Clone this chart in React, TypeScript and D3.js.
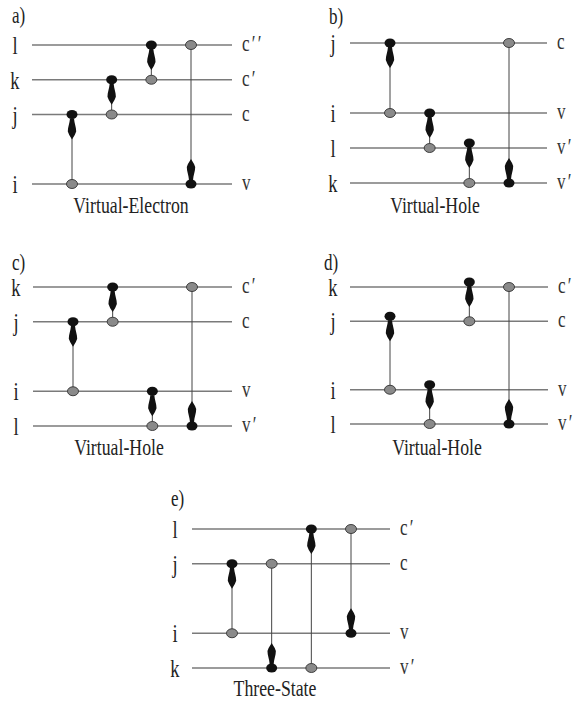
import React from "react";
import * as d3 from "d3";

// Panel captions and titles
const panelLetters = ["a)", "b)", "c)", "d)", "e)"];
const panelTitles = ["Virtual-Electron", "Virtual-Hole", "Virtual-Hole", "Virtual-Hole", "Three-State"];

// Level indices (bottom → top) per panel
const levelNames = [
  ["i", "j", "k", "l"],
  ["k", "l", "i", "j"],
  ["l", "i", "j", "k"],
  ["l", "i", "j", "k"],
  ["k", "i", "j", "l"],
];
// Band labels on the right, same order
const levelBands = [
  ["v", "c", "c′", "c′′"],
  ["v′", "v′", "v", "c"],
  ["v′", "v", "c", "c′"],
  ["v′", "v", "c", "c′"],
  ["v′", "v", "c", "c′"],
];
// Relative energy of each level
const levelEnergies = [
  [0, 2, 3, 4],
  [0, 1, 2, 4],
  [0, 1, 3, 4],
  [0, 1, 3, 4],
  [0, 1, 3, 4],
];

// Transitions per panel, in column order: [filled end, open end]
const transitions: [string, string][][] = [
  [["j", "i"], ["k", "j"], ["l", "k"], ["i", "l"]],
  [["j", "i"], ["i", "l"], ["l", "k"], ["k", "j"]],
  [["j", "i"], ["k", "j"], ["i", "l"], ["l", "k"]],
  [["j", "i"], ["i", "l"], ["k", "j"], ["l", "k"]],
  [["j", "i"], ["k", "j"], ["l", "k"], ["i", "l"]],
];
// Filled ends sitting slightly above their line
const raisedEnds = [
  [false, false, false, false],
  [false, false, true, false],
  [false, false, false, false],
  [true, true, true, false],
  [false, false, false, false],
];

// Panel frames on the page
const layout = [
  { x0: 32, x1: 232, top: 45, bottom: 184, titleX: 131, titleY: 213, lx: 12, ly: 23 },
  { x0: 350, x1: 547, top: 43, bottom: 183, titleX: 435, titleY: 213, lx: 329, ly: 24 },
  { x0: 33, x1: 232, top: 287, bottom: 426, titleX: 119, titleY: 455, lx: 12, ly: 270 },
  { x0: 350, x1: 548, top: 287, bottom: 424, titleX: 437, titleY: 455, lx: 324, ly: 270 },
  { x0: 192, x1: 390, top: 529, bottom: 668, titleX: 275, titleY: 696, lx: 171, ly: 506 },
];

const FONT = "'Liberation Serif', 'Times New Roman', serif";
const SQ = 0.74; // horizontal compression of the serif type

// Arrow body pointing away from the filled dot (local coords, +y = away)
const arrowPath = (() => {
  const p = d3.path();
  p.moveTo(-2, 4);
  p.bezierCurveTo(-2.4, 9, -4.2, 12.5, -4.2, 17);
  p.quadraticCurveTo(-3.4, 20, 0, 25);
  p.quadraticCurveTo(3.4, 20, 4.2, 17);
  p.bezierCurveTo(4.2, 12.5, 2.4, 9, 2, 4);
  p.closePath();
  return p.toString();
})();

function Panel({ idx }: { idx: number }) {
  const L = layout[idx];
  const y = d3.scaleLinear().domain([0, 4]).range([L.bottom, L.top]);
  const x = d3.scalePoint<number>().domain([0, 1, 2, 3]).range([L.x0 + 40, L.x0 + 159]);
  const names = levelNames[idx];
  const levelY = (n: string) => y(levelEnergies[idx][names.indexOf(n)]);

  return (
    <g>
      <text
        transform={`translate(${L.lx},${L.ly}) scale(${SQ},1)`}
        fontFamily={FONT}
        fontSize={23}
        fill="#222"
      >
        {panelLetters[idx]}
      </text>
      {names.map((n, i) => {
        const yy = y(levelEnergies[idx][i]);
        return (
          <g key={n}>
            <line x1={L.x0} x2={L.x1} y1={yy} y2={yy} stroke="#7a7a7a" strokeWidth={1.3} />
            <text
              transform={`translate(${L.x0 - 17},${yy + 9}) scale(${SQ},1)`}
              textAnchor="middle"
              fontFamily={FONT}
              fontSize={25}
              fill="#222"
            >
              {n}
            </text>
            <text
              transform={`translate(${L.x1 + 10},${yy + 6}) scale(${SQ},1)`}
              fontFamily={FONT}
              fontSize={23}
              letterSpacing={3}
              fill="#333"
            >
              {levelBands[idx][i]}
            </text>
          </g>
        );
      })}
      {transitions[idx].map(([filled, open], c) => {
        const cx = x(c)!;
        const yf = levelY(filled) - (raisedEnds[idx][c] ? 5 : 0);
        const yo = levelY(open);
        const dir = yo > yf ? 1 : -1;
        return (
          <g key={c}>
            <line x1={cx} x2={cx} y1={yf} y2={yo} stroke="#444" strokeWidth={1} />
            <path d={arrowPath} transform={`translate(${cx},${yf}) scale(1,${dir})`} fill="#111" />
            <ellipse cx={cx} cy={yo} rx={5.5} ry={4.5} fill="#8a8a8a" stroke="#333" strokeWidth={0.9} />
            <ellipse cx={cx} cy={yf} rx={5.5} ry={4.5} fill="#111" />
          </g>
        );
      })}
      <text
        transform={`translate(${L.titleX},${L.titleY}) scale(${SQ},1)`}
        textAnchor="middle"
        fontFamily={FONT}
        fontSize={24}
        fill="#222"
      >
        {panelTitles[idx]}
      </text>
    </g>
  );
}

export default function App() {
  return (
    <svg
      width={583}
      height={706}
      viewBox="0 0 583 706"
      style={{ position: "absolute", left: 0, top: 0, background: "#fff" }}
    >
      <rect width={583} height={706} fill="#fff" />
      {panelLetters.map((_, i) => (
        <Panel key={i} idx={i} />
      ))}
    </svg>
  );
}
